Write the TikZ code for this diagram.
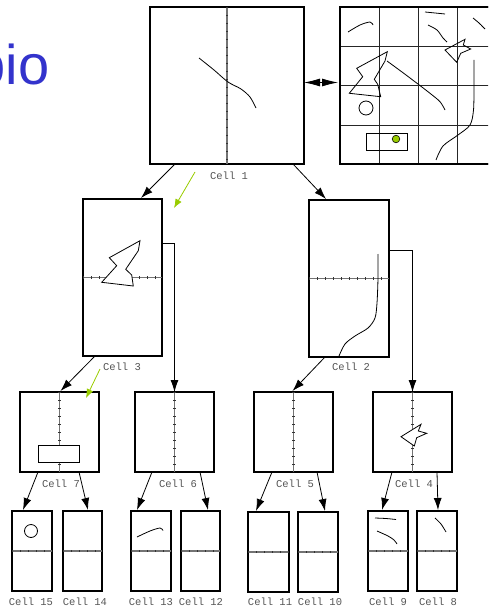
\documentclass[tikz,border=0pt]{standalone}
\usepackage{fontspec}
\usetikzlibrary{arrows.meta,calc}
\newfontfamily\labfont{Liberation Mono}
\newfontfamily\bigfont{Liberation Sans}
\definecolor{titleblue}{RGB}{51,51,204}
\definecolor{lblgray}{RGB}{85,85,85}
\definecolor{ygreen}{RGB}{153,204,0}
\tikzset{
  cellbox/.style={draw, line width=2.2pt, inner sep=0pt, outer sep=0pt},
  divl/.style={draw=black!55, line width=1.6pt, postaction={draw=black!80, line width=2.3pt, dash pattern=on 0.7pt off 7.3pt}},
  arr/.style={-{Latex[length=12pt,width=8pt]}, line width=0.8pt},
  dblarr/.style={{Latex[length=16pt,width=8pt]}-{Latex[length=16pt,width=8pt]}, line width=0.8pt},
  garr/.style={-{Latex[length=9pt,width=7pt]}, draw=ygreen, line width=0.8pt},
  lbl/.style={font=\labfont\fontsize{10.5}{11}\selectfont, text=lblgray, inner sep=0pt},
  ink/.style={line width=0.8pt},
  gridl/.style={draw=black!85, line width=0.9pt},
}
\begin{document}
\begin{tikzpicture}[x=1pt,y=-1pt]
\useasboundingbox (0,0) rectangle (488,607);
\clip (0,0) rectangle (488,607);
% title fragment
\node[font=\bigfont\fontsize{56}{58}\selectfont, text=titleblue, anchor=base east, inner sep=0pt] (title) at (49.5,85) {bio};
% level 1
\node[cellbox, minimum width=154pt, minimum height=157pt] (c1) at (227,85.5) {};
\node[cellbox, minimum width=156pt, minimum height=157pt] (map) at (418,85.5) {};
\draw[divl] (c1.north) -- (c1.south);
\draw[ink] plot[smooth] coordinates {(199,58) (214,70) (228,82) (241,89) (250,97) (256,108)};
% map grid
\foreach \gx in {379,418,457} \draw[gridl] (\gx,7) -- (\gx,164);
\foreach \gy in {46,85.5,125} \draw[gridl] (340,\gy) -- (496,\gy);
\node[cellbox, minimum width=156pt, minimum height=157pt] at (map) {};
\draw[ink] plot[smooth] coordinates {(348,32) (360,25) (370,22) (373,25)};
\draw[ink] plot[smooth] coordinates {(425,12) (435,13) (445,14)};
\draw[ink] plot[smooth] coordinates {(428,25) (437,30) (443,38) (447,42)};
\draw[ink] plot[smooth] coordinates {(473,18) (479,23) (485,29)};
\draw[ink, line join=miter] (387.3,51.7) -- (356.7,68.3) -- (362.7,76.7) -- (349.3,93.3) -- (380.7,96.7) -- (377.7,84.3) -- (374.3,79.3) -- (385,61) -- cycle;
\draw[ink] plot[smooth] coordinates {(387,61) (402,72) (417,83.3) (430,93.3) (440,101.7) (445,110)};
\draw[ink] (445,50) -- (465,39.3) -- (463.3,45) -- (470.7,49) -- (460.7,53.3) -- (456.7,62.3) -- cycle;
\draw[ink] plot[smooth] coordinates {(474,60) (474,85) (473.5,110) (470,125) (458,135) (443,146) (436,160)};
\draw[ink] (366,108) circle (7);
\draw[ink] (366,133) rectangle (407,150);
\fill[ygreen, draw=black, line width=0.6pt] (396,139) circle (3.8);
\draw[dblarr] ($(c1.east)+(0,-3)$) -- ($(map.west)+(-2,-3)$);
\node[lbl] (l1) at (229,176) {Cell 1};
% level 2
\node[cellbox, minimum width=79pt, minimum height=157pt] (c3) at (122.5,277.5) {};
\node[cellbox, minimum width=80pt, minimum height=157pt] (c2) at (349,278.5) {};
\draw[divl] (c3.west) -- (c3.east);
\draw[divl] (c2.west) -- (c2.east);
\filldraw[fill=white, ink, line join=miter] (140,240.7) -- (109.3,257.7) -- (116.7,265.7) -- (101.7,282.3) -- (133.3,286) -- (131.7,275) -- (125.7,269.3) -- (138.3,250.7) -- cycle;
\draw[ink] plot[smooth] coordinates {(378,254) (378,278) (377,303) (375,318) (368,328) (355,336) (345,344) (339,356)};
\node[lbl] (l3) at (122,367) {Cell 3};
\node[lbl] (l2) at (351,367) {Cell 2};
\draw[arr] ($(c1.south west)+(25,0)$) -- ($(c3.north east)+(-21,-1)$);
\draw[arr] ($(c1.south east)+(-11,0)$) -- ($(c2.north west)+(17,-1)$);
\coordinate (ga1) at (195,172);
\coordinate (gb1) at (174,208);
\draw[garr] (ga1) -- (gb1);
% level 3
\node[cellbox, minimum width=79pt, minimum height=80pt] (c7) at (59.5,432) {};
\node[cellbox, minimum width=79pt, minimum height=80pt] (c6) at (174.5,432) {};
\node[cellbox, minimum width=79pt, minimum height=80pt] (c5) at (293.5,432) {};
\node[cellbox, minimum width=79pt, minimum height=80pt] (c4) at (412.5,432) {};
\foreach \c in {c7,c6,c5,c4} \draw[divl] (\c.north) -- (\c.south);
\filldraw[fill=white, ink] (38,445) rectangle (79,462);
\filldraw[fill=white, ink, line join=miter] (401,436.7) -- (421,424.3) -- (418.3,431) -- (426.7,433.3) -- (416.7,437.7) -- (414.3,446) -- cycle;
\node[lbl] (l7) at (61,484) {Cell 7};
\node[lbl] (l6) at (178,484) {Cell 6};
\node[lbl] (l5) at (295,484) {Cell 5};
\node[lbl] (l4) at (414,484) {Cell 4};
\draw[arr] ($(c3.south west)+(12,0)$) -- ($(c7.north)+(1,-1)$);
\draw[arr] ($(c3.north east)+(0,44)$) -| (c6.north);
\draw[arr] ($(c2.south west)+(16,0)$) -- ($(c5.north)+(-1,-1)$);
\draw[arr] ($(c2.north east)+(0,50)$) -| (c4.north);
\coordinate (ga2) at (100,369);
\coordinate (gb2) at (86,398);
\draw[garr] (ga2) -- (gb2);
% level 4
\node[cellbox, minimum width=40pt, minimum height=80pt] (c15) at (32,551) {};
\node[cellbox, minimum width=39pt, minimum height=80pt] (c14) at (82.5,551) {};
\node[cellbox, minimum width=40pt, minimum height=80pt] (c13) at (151,551) {};
\node[cellbox, minimum width=39pt, minimum height=80pt] (c12) at (200.5,551) {};
\node[cellbox, minimum width=41pt, minimum height=80pt] (c11) at (268.5,552) {};
\node[cellbox, minimum width=40pt, minimum height=80pt] (c10) at (318,552) {};
\node[cellbox, minimum width=40pt, minimum height=80pt] (c9) at (388,551) {};
\node[cellbox, minimum width=40pt, minimum height=80pt] (c8) at (437,551) {};
\foreach \c in {c15,c14,c13,c12,c11,c10,c9,c8} \draw[divl] (\c.west) -- (\c.east);
\draw[ink] (31,531) circle (6.5);
\draw[ink] plot[smooth] coordinates {(137,537) (150,531) (160,528) (163,530.5)};
\draw[ink] plot[smooth] coordinates {(375,518) (386,518.5) (396,519.5)};
\draw[ink] plot[smooth] coordinates {(377,531) (388,536) (394,540) (397,544)};
\draw[ink] plot[smooth] coordinates {(435,518) (441,524) (446,532)};
\node[lbl] (l15) at (31,602) {Cell 15};
\node[lbl] (l14) at (85,602) {Cell 14};
\node[lbl] (l13) at (151,602) {Cell 13};
\node[lbl] (l12) at (201,602) {Cell 12};
\node[lbl] (l11) at (270,602) {Cell 11};
\node[lbl] (l10) at (320,602) {Cell 10};
\node[lbl] (l9) at (388,602) {Cell 9};
\node[lbl] (l8) at (438,602) {Cell 8};
\draw[arr] ($(c7.south west)+(18,0)$) -- ($(c15.north west)+(11,-1)$);
\draw[arr] ($(c7.south west)+(59,0)$) -- ($(c14.north west)+(25,-1)$);
\draw[arr] ($(c6.south west)+(17,0)$) -- ($(c13.north west)+(6,-1)$);
\draw[arr] ($(c6.south west)+(65,0)$) -- ($(c12.north west)+(27,-1)$);
\draw[arr] ($(c5.south west)+(18,0)$) -- ($(c11.north west)+(8,-1)$);
\draw[arr] ($(c5.south west)+(63,0)$) -- ($(c10.north west)+(27,-1)$);
\draw[arr] ($(c4.south west)+(19,0)$) -- ($(c9.north west)+(14,-1)$);
\draw[arr] ($(c4.south west)+(64,0)$) -- ($(c8.north west)+(21,-1)$);
\end{tikzpicture}
\end{document}
